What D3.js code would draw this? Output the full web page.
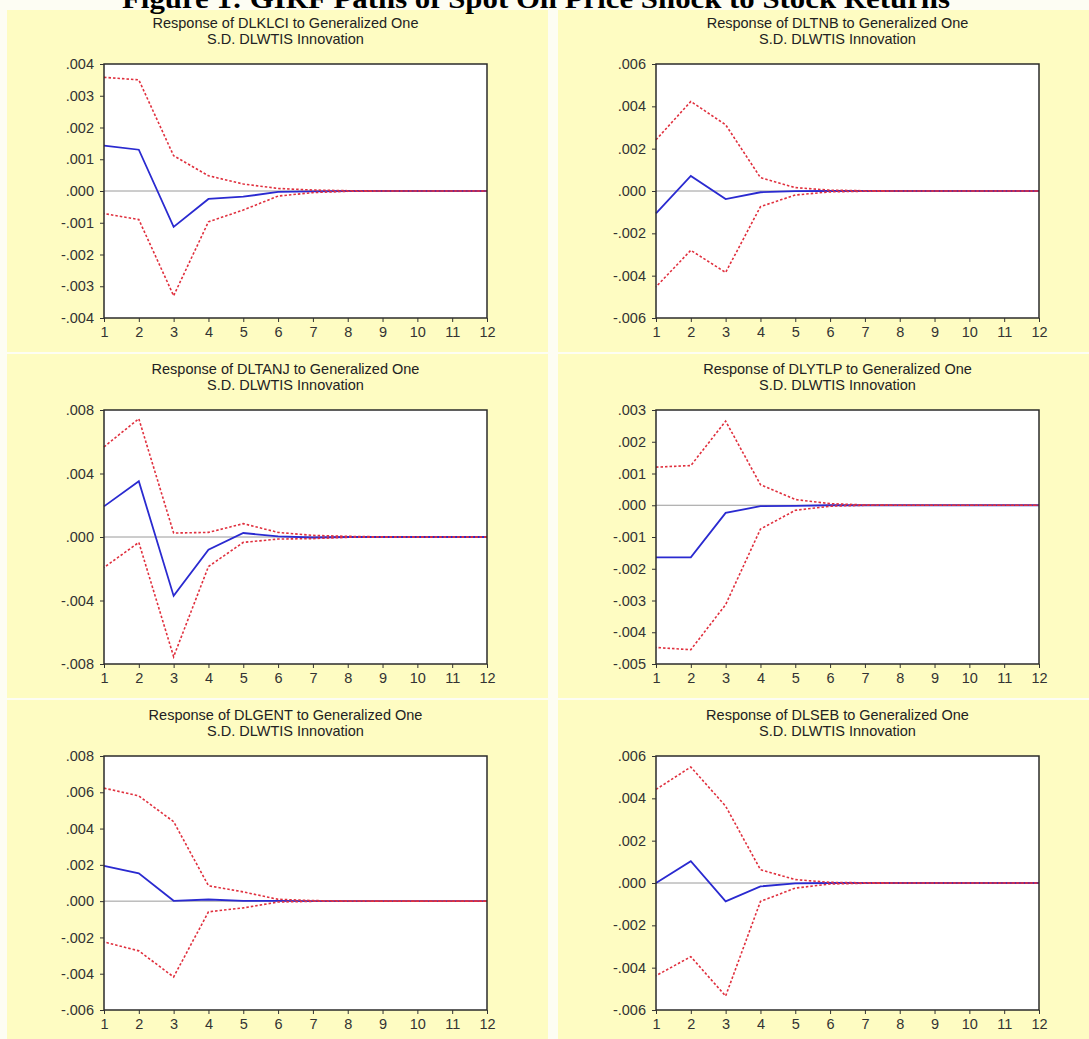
<!DOCTYPE html>
<html>
<head>
<meta charset="utf-8">
<script src="https://cdn.jsdelivr.net/npm/d3@7"></script>
<style>
    body { margin: 0; background: #fdfdf3; }
    svg { display: block; }
    .fig-title { font-family: "Liberation Serif", "Times New Roman", serif; font-weight: bold; font-size: 27px; fill: #000; }
    .panel-title { font-family: "Liberation Sans", Arial, sans-serif; font-size: 14.5px; fill: #222; }
    .axis text { font-family: "Liberation Sans", Arial, sans-serif; font-size: 14.5px; fill: #333; }
    .axis line { stroke: #333; }
</style>
</head>
<body>
<svg id="chart" width="1089" height="1039"></svg>
<script>
// horizons (periods after the shock)
const periods = [1, 2, 3, 4, 5, 6, 7, 8, 9, 10, 11, 12];
const responders = ['DLKLCI', 'DLTNB', 'DLTANJ', 'DLYTLP', 'DLGENT', 'DLSEB'];
const shockName = 'DLWTIS';

// DLKLCI
const klciResp  = [0.00143, 0.00130, -0.00113, -0.00025, -0.00018, -0.00003, -0.00001, 0, 0, 0, 0, 0];
const klciUpper = [0.00358, 0.00350, 0.00111, 0.00048, 0.00022, 0.00008, 0.00003, 0.00001, 0, 0, 0, 0];
const klciLower = [-0.00071, -0.00090, -0.00330, -0.00097, -0.00060, -0.00016, -0.00005, -0.00001, 0, 0, 0, 0];
const klciTicks = [-0.004, -0.003, -0.002, -0.001, 0, 0.001, 0.002, 0.003, 0.004];

// DLTNB
const tnbResp  = [-0.00106, 0.00071, -0.00038, -0.00006, -0.00001, 0, 0, 0, 0, 0, 0, 0];
const tnbUpper = [0.00242, 0.00423, 0.00313, 0.00063, 0.00016, 0.00004, 0.00001, 0, 0, 0, 0, 0];
const tnbLower = [-0.00453, -0.00280, -0.00385, -0.00074, -0.00019, -0.00004, -0.00001, 0, 0, 0, 0, 0];
const tnbTicks = [-0.006, -0.004, -0.002, 0, 0.002, 0.004, 0.006];

// DLTANJ
const tanjResp  = [0.00193, 0.00351, -0.00371, -0.00080, 0.00025, 0.00004, -0.00003, 0, 0, 0, 0, 0];
const tanjUpper = [0.00568, 0.00745, 0.00025, 0.00029, 0.00084, 0.00029, 0.00010, 0.00004, 0.00001, 0, 0, 0];
const tanjLower = [-0.00192, -0.00034, -0.00754, -0.00186, -0.00034, -0.00013, -0.00010, -0.00002, 0, 0, 0, 0];
const tanjTicks = [-0.008, -0.004, 0, 0.004, 0.008];

// DLYTLP
const ytlpResp  = [-0.00164, -0.00164, -0.00024, -0.00003, -0.00002, 0, 0, 0, 0, 0, 0, 0];
const ytlpUpper = [0.00120, 0.00125, 0.00265, 0.00065, 0.00018, 0.00005, 0.00001, 0, 0, 0, 0, 0];
const ytlpLower = [-0.00448, -0.00455, -0.00313, -0.00075, -0.00016, -0.00003, 0, 0, 0, 0, 0, 0];
const ytlpTicks = [-0.005, -0.004, -0.003, -0.002, -0.001, 0, 0.001, 0.002, 0.003];

// DLGENT
const gentResp  = [0.00195, 0.00153, 0.00002, 0.00009, 0.00002, 0.00001, 0, 0, 0, 0, 0, 0];
const gentUpper = [0.00623, 0.00580, 0.00438, 0.00085, 0.00051, 0.00010, 0.00003, 0.00001, 0, 0, 0, 0];
const gentLower = [-0.00225, -0.00274, -0.00418, -0.00059, -0.00037, -0.00005, -0.00001, 0, 0, 0, 0, 0];
const gentTicks = [-0.006, -0.004, -0.002, 0, 0.002, 0.004, 0.006, 0.008];

// DLSEB
const sebResp  = [0, 0.00103, -0.00087, -0.00016, -0.00002, 0, 0, 0, 0, 0, 0, 0];
const sebUpper = [0.00442, 0.00548, 0.00363, 0.00063, 0.00016, 0.00003, 0.00001, 0, 0, 0, 0, 0];
const sebLower = [-0.00438, -0.00348, -0.00534, -0.00087, -0.00024, -0.00005, -0.00001, 0, 0, 0, 0, 0];
const sebTicks = [-0.006, -0.004, -0.002, 0, 0.002, 0.004, 0.006];

const panels = [
    { name: responders[0], resp: klciResp, upper: klciUpper, lower: klciLower, ticks: klciTicks },
    { name: responders[1], resp: tnbResp,  upper: tnbUpper,  lower: tnbLower,  ticks: tnbTicks },
    { name: responders[2], resp: tanjResp, upper: tanjUpper, lower: tanjLower, ticks: tanjTicks },
    { name: responders[3], resp: ytlpResp, upper: ytlpUpper, lower: ytlpLower, ticks: ytlpTicks },
    { name: responders[4], resp: gentResp, upper: gentUpper, lower: gentLower, ticks: gentTicks },
    { name: responders[5], resp: sebResp,  upper: sebUpper,  lower: sebLower,  ticks: sebTicks }
];

// layout
const plotLeft = [104, 656];
const plotTop = [64, 410, 756];
const plotW = 383;
const plotH = 254;
const bgX = [7, 558];
const bgW = [541, 531];
const bgY = [10, 354, 700];
const bgH = [342, 344, 339];

const svg = d3.select('#chart');

// tick label like EViews: .004 / -.004
const fmt = d => (d < 0 ? '-' : '') + Math.abs(d).toFixed(3).slice(1);

panels.forEach((p, i) => {
    const col = i % 2;
    const row = Math.floor(i / 2);
    const left = plotLeft[col];
    const top = plotTop[row];

    const g = svg.append('g');

    g.append('rect')
        .attr('x', bgX[col]).attr('y', bgY[row])
        .attr('width', bgW[col]).attr('height', bgH[row])
        .attr('fill', '#fefcc2');

    g.append('rect')
        .attr('x', left).attr('y', top)
        .attr('width', plotW).attr('height', plotH)
        .attr('fill', '#fff');

    const x = d3.scaleLinear().domain([1, 12]).range([left, left + plotW]);
    const y = d3.scaleLinear().domain(d3.extent(p.ticks)).range([top + plotH, top]);

    // zero line
    g.append('line')
        .attr('x1', x(1)).attr('x2', x(12))
        .attr('y1', y(0)).attr('y2', y(0))
        .attr('stroke', '#9a9a9a').attr('stroke-width', 1);

    const line = d3.line()
        .x((d, k) => x(periods[k]))
        .y(d => y(d));

    g.append('path')
        .datum(p.resp)
        .attr('d', line)
        .attr('fill', 'none')
        .attr('stroke', '#2a2ad0')
        .attr('stroke-width', 1.8);

    [p.upper, p.lower].forEach((band, b) => {
        g.append('path')
            .datum(band)
            .attr('d', line)
            .attr('fill', 'none')
            .attr('stroke', '#e0303e')
            .attr('stroke-width', 1.6)
            .attr('stroke-dasharray', '2.5,2')
            .attr('stroke-dashoffset', b * 2);
    });

    // frame
    g.append('rect')
        .attr('x', left).attr('y', top)
        .attr('width', plotW).attr('height', plotH)
        .attr('fill', 'none')
        .attr('stroke', '#2b2b2b')
        .attr('stroke-width', 1.5);

    const yAxis = g.append('g')
        .attr('class', 'axis')
        .attr('transform', `translate(${left},0)`)
        .call(d3.axisLeft(y).tickValues(p.ticks).tickFormat(fmt).tickSize(4).tickPadding(6));
    yAxis.select('.domain').remove();

    const xAxis = g.append('g')
        .attr('class', 'axis')
        .attr('transform', `translate(0,${top + plotH})`)
        .call(d3.axisBottom(x).tickValues(periods).tickFormat(d3.format('d')).tickSize(4).tickPadding(5));
    xAxis.select('.domain').remove();

    const cx = left + plotW / 2 - 10;
    g.append('text')
        .attr('class', 'panel-title')
        .attr('x', cx).attr('y', top - 36)
        .attr('text-anchor', 'middle')
        .text(`Response of ${p.name} to Generalized One`);
    g.append('text')
        .attr('class', 'panel-title')
        .attr('x', cx).attr('y', top - 20)
        .attr('text-anchor', 'middle')
        .text(`S.D. ${shockName} Innovation`);
});

// figure caption, clipped at the top edge as in the source
svg.append('text')
    .attr('class', 'fig-title')
    .attr('x', 536).attr('y', 8)
    .attr('text-anchor', 'middle')
    .attr('textLength', 828)
    .attr('lengthAdjust', 'spacingAndGlyphs')
    .text('Figure 1: GIRF Paths of Spot Oil Price Shock to Stock Returns');
</script>
</body>
</html>
